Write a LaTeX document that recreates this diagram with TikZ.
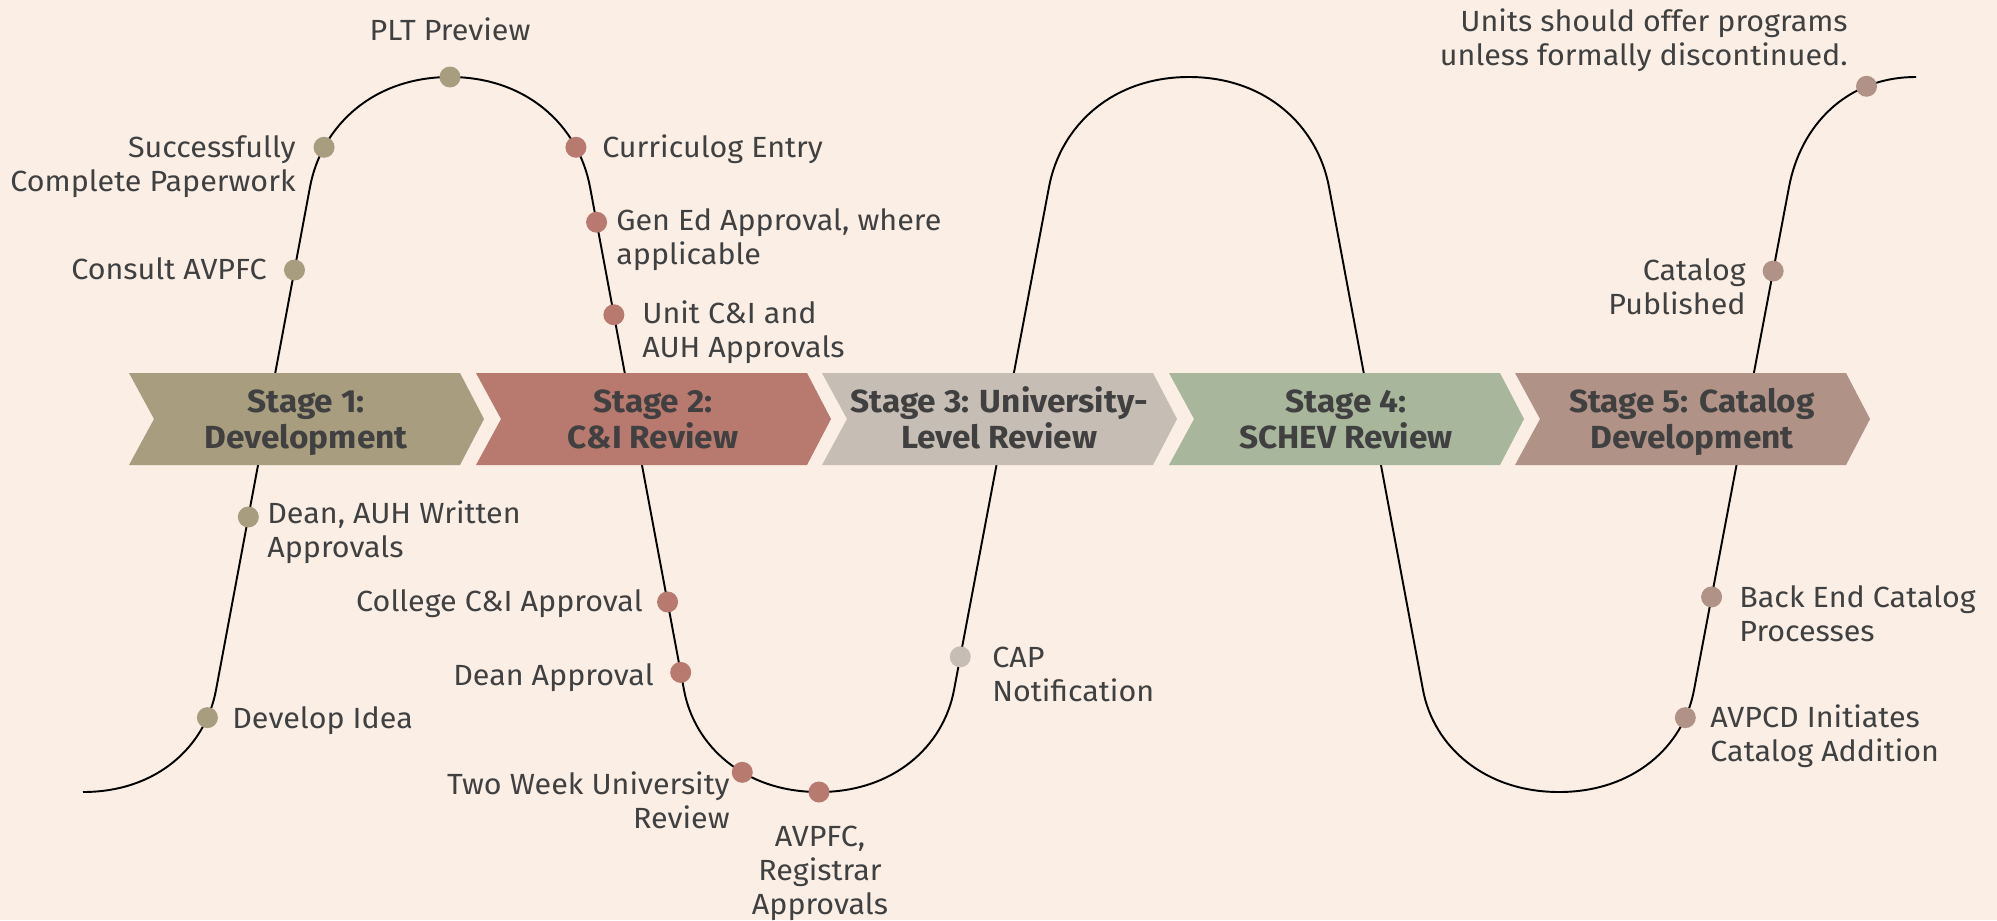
\documentclass[tikz,border=0pt]{standalone}
\usepackage{fontspec}
\setmainfont{Fira Sans}[FakeStretch=1.045]
\usetikzlibrary{calc}
\definecolor{bg}{HTML}{FAEEE5}
\definecolor{sone}{HTML}{A89D7E}
\definecolor{stwo}{HTML}{B87A6F}
\definecolor{sthree}{HTML}{C6BEB4}
\definecolor{sfour}{HTML}{A8B79C}
\definecolor{sfive}{HTML}{B09286}
\definecolor{txt}{HTML}{404040}
\newcommand{\mylines}[2]{\begin{tabular}[t]{@{}#1@{}}#2\end{tabular}}
\begin{document}
\begin{tikzpicture}[x=0.02cm,y=-0.02cm,
  lbl/.style={inner sep=0pt, text=txt, font=\fontsize{16.6}{19.35}\selectfont},
  stg/.style={inner sep=0pt, text=txt, font=\fontsize{18.2}{20.5}\selectfont\bfseries},
  dot/.style={circle, inner sep=0pt, minimum size=0.42cm},
  curve/.style={line width=1.1pt, black}]
\useasboundingbox (0,0) rectangle (1997,920);
\fill[bg] (0,0) rectangle (1997,920);
% the winding path
\draw[curve] (83,792)
 .. controls (157,792) and (205.5,746.3) .. (216,690) coordinate[pos=0.83] (p1)
 -- (310,187) coordinate[pos=0.344] (p2) coordinate[pos=0.835] (p3)
 .. controls (321.4,126) and (373,77) .. (450,77) coordinate[pos=0.23] (p4) coordinate (p5)
 .. controls (527,77) and (578.6,126) .. (590,187) coordinate[pos=0.77] (p6)
 -- (684,690) coordinate[pos=0.07] (p7) coordinate[pos=0.254] (p8) coordinate[pos=0.825] (p9) coordinate[pos=0.965] (p10)
 .. controls (694.5,746.3) and (744.4,792) .. (819,792) coordinate[pos=0.6] (p11) coordinate (p12)
 .. controls (893.6,792) and (943.5,746.3) .. (954,690)
 -- (1049,187) coordinate[pos=0.066] (p13)
 .. controls (1060.4,126) and (1112,77) .. (1189,77)
 .. controls (1266,77) and (1317.6,126) .. (1329,187)
 -- (1423,690)
 .. controls (1433.5,746.3) and (1484.4,792) .. (1559,792)
 .. controls (1633.6,792) and (1683.5,746.3) .. (1694,690) coordinate[pos=0.83] (p16)
 -- (1789,187) coordinate[pos=0.185] (p15) coordinate[pos=0.833] (p14)
 .. controls (1800.4,126) and (1846,77) .. (1916,77) coordinate[pos=0.74] (p17);
% chevrons
\fill[sone] (129,373) -- (460,373) -- (484,419) -- (460,465) -- (129,465) -- (154,419) -- cycle;
\fill[stwo] (476,373) -- (807,373) -- (831,419) -- (807,465) -- (476,465) -- (501,419) -- cycle;
\fill[sthree] (822,373) -- (1153,373) -- (1177,419) -- (1153,465) -- (822,465) -- (847,419) -- cycle;
\fill[sfour] (1169,373) -- (1500,373) -- (1524,419) -- (1500,465) -- (1169,465) -- (1194,419) -- cycle;
\fill[sfive] (1515,373) -- (1846,373) -- (1870,419) -- (1846,465) -- (1515,465) -- (1540,419) -- cycle;
\node[stg, anchor=base] (s1) at (306,412) {\mylines{c}{Stage 1:\\Development}};
\node[stg, anchor=base] (s2) at (653,412) {\mylines{c}{Stage 2:\\C\&I Review}};
\node[stg, anchor=base] (s3) at (999,412) {\mylines{c}{Stage 3: University-\\Level Review}};
\node[stg, anchor=base] (s4) at (1346,412) {\mylines{c}{Stage 4:\\SCHEV Review}};
\node[stg, anchor=base] (s5) at (1692,412) {\mylines{c}{Stage 5: Catalog\\Development}};
% dots
\foreach \i in {1,...,5} {\node[dot, fill=sone] (d\i) at (p\i) {};}
\foreach \i in {6,...,12} {\node[dot, fill=stwo] (d\i) at (p\i) {};}
\node[dot, fill=sthree] (d13) at (p13) {};
\foreach \i in {14,...,17} {\node[dot, fill=sfive] (d\i) at (p\i) {};}
% labels
\node[lbl, anchor=base] (t5) at (450,40) {PLT Preview};
\node[lbl, anchor=base east] (t4) at (296,157) {\mylines{r}{Successfully\\Complete Paperwork}};
\node[lbl, anchor=base east] (t3) at (267,279) {Consult AVPFC};
\node[lbl, anchor=base west] (t6) at (602,157) {Curriculog Entry};
\node[lbl, anchor=base west] (t7) at (616,230) {\mylines{l}{Gen Ed Approval, where\\applicable}};
\node[lbl, anchor=base west] (t8) at (642,323) {\mylines{l}{Unit C\&I and\\AUH Approvals}};
\node[lbl, anchor=base west] (t2) at (267,523) {\mylines{l}{Dean, AUH Written\\Approvals}};
\node[lbl, anchor=base east] (t9) at (643,611) {College C\&I Approval};
\node[lbl, anchor=base east] (t10) at (654,685) {Dean Approval};
\node[lbl, anchor=base west] (t1) at (232,728) {Develop Idea};
\node[lbl, anchor=base east] (t11) at (730,794) {\mylines{r}{Two Week University\\Review}};
\node[lbl, anchor=base] (t12) at (820,846) {\mylines{c}{AVPFC,\\Registrar\\Approvals}};
\node[lbl, anchor=base west] (t13) at (992,667) {\mylines{l}{CAP\\Notification}};
\node[lbl, anchor=base west] (t15) at (1739,607) {\mylines{l}{Back End Catalog\\Processes}};
\node[lbl, anchor=base west] (t16) at (1710,727) {\mylines{l}{AVPCD Initiates\\Catalog Addition}};
\node[lbl, anchor=base east] (t17) at (1848,31) {\mylines{r}{Units should offer programs\\unless formally discontinued.}};
\node[lbl, anchor=base east] (t14) at (1746,280) {\mylines{r}{Catalog\\Published}};
\end{tikzpicture}
\end{document}
